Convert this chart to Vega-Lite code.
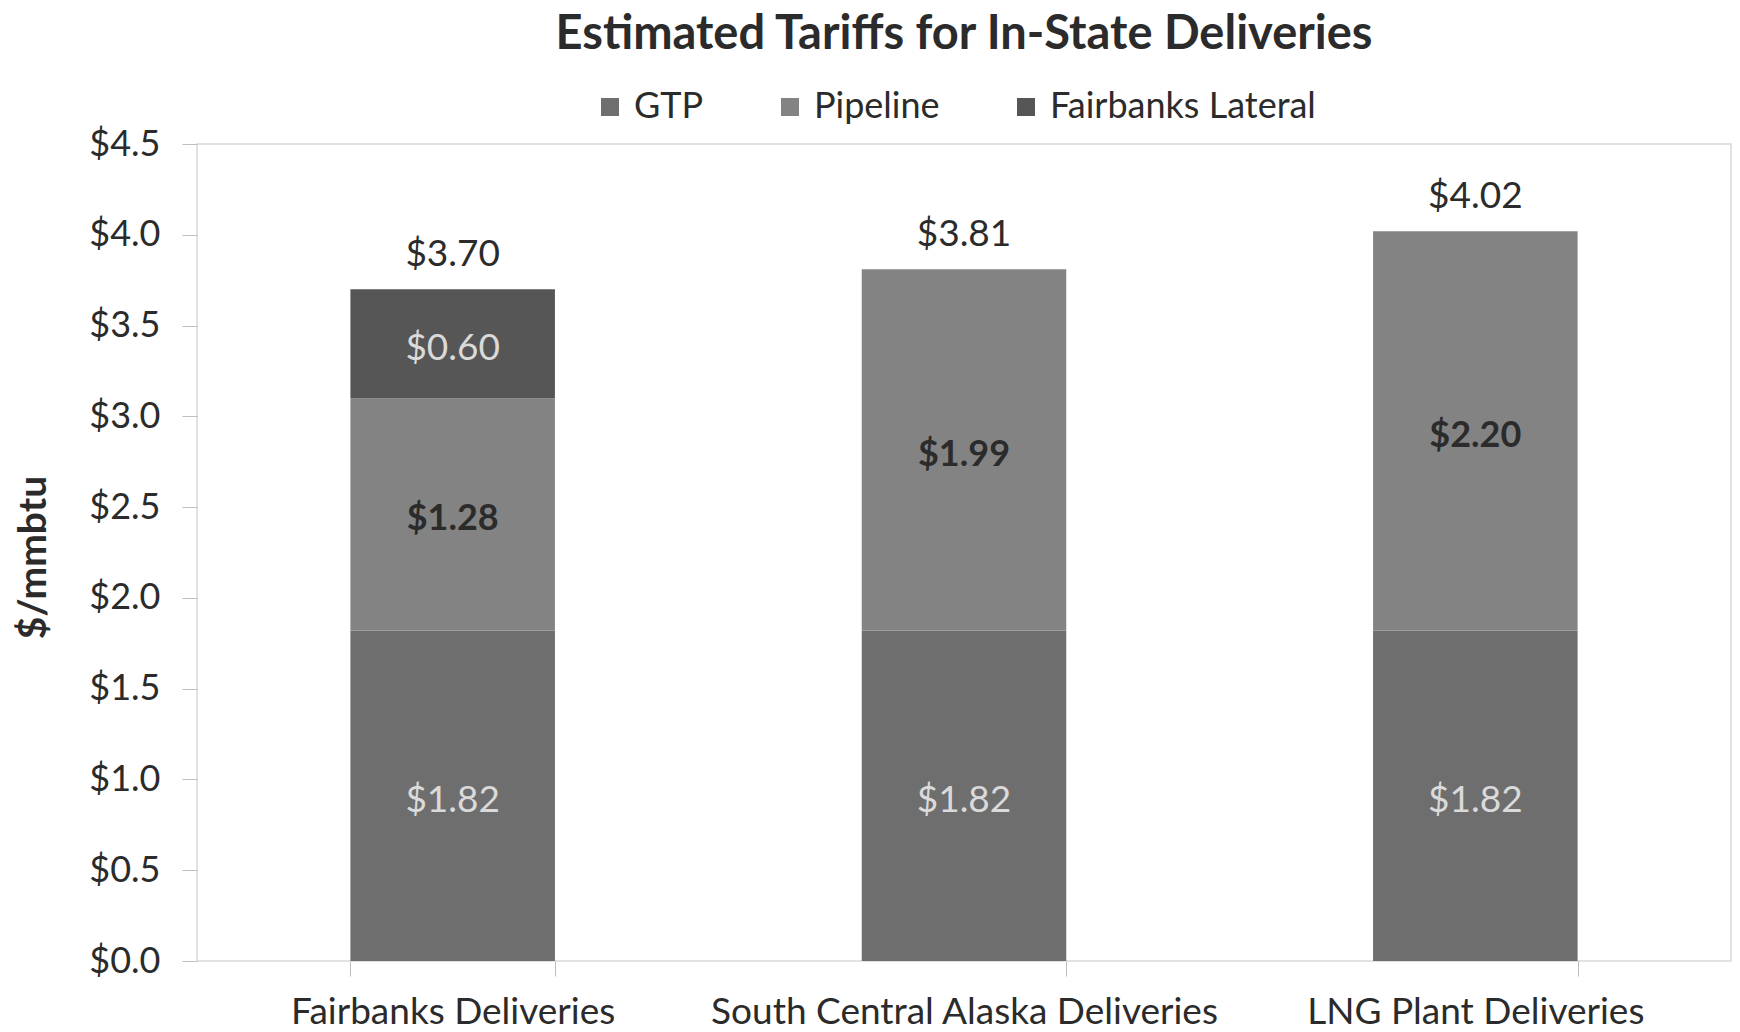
{
  "$schema": "https://vega.github.io/schema/vega-lite/v6.json",
  "autosize": "none",
  "width": 1534,
  "height": 817,
  "padding": {"left": 197, "top": 144, "right": 9, "bottom": 71},
  "background": "white",
  "config": {
    "font": "Lato",
    "view": {"stroke": "#d9d9d9", "strokeWidth": 1.5}
  },
  "title": {
    "text": "Estimated Tariffs for In-State Deliveries",
    "fontSize": 47,
    "fontWeight": "bold",
    "color": "#2b2b2b",
    "anchor": "middle",
    "frame": "group",
    "offset": 30
  },
  "data": {
    "values": [
      {"delivery": "Fairbanks Deliveries", "series": "GTP", "value": 1.82},
      {"delivery": "Fairbanks Deliveries", "series": "Pipeline", "value": 1.28},
      {"delivery": "Fairbanks Deliveries", "series": "Fairbanks Lateral", "value": 0.60},
      {"delivery": "South Central Alaska Deliveries", "series": "GTP", "value": 1.82},
      {"delivery": "South Central Alaska Deliveries", "series": "Pipeline", "value": 1.99},
      {"delivery": "LNG Plant Deliveries", "series": "GTP", "value": 1.82},
      {"delivery": "LNG Plant Deliveries", "series": "Pipeline", "value": 2.20}
    ]
  },
  "transform": [
    {"window": [{"op": "row_number", "as": "idx"}]},
    {"stack": "value", "groupby": ["delivery"], "sort": [{"field": "idx"}], "as": ["v0", "v1"]}
  ],
  "encoding": {
    "x": {
      "field": "delivery",
      "type": "nominal",
      "sort": ["Fairbanks Deliveries", "South Central Alaska Deliveries", "LNG Plant Deliveries"],
      "scale": {"paddingInner": 0.6, "paddingOuter": 0.3},
      "axis": {
        "title": null,
        "labelAngle": 0,
        "labelFontSize": 37,
        "labelColor": "#2b2b2b",
        "labelPadding": 18,
        "labelLimit": 0,
        "domain": false,
        "tickBand": "extent",
        "tickSize": 15,
        "tickColor": "#bfbfbf"
      }
    }
  },
  "layer": [
    {
      "mark": {"type": "bar"},
      "encoding": {
        "y": {
          "field": "v1",
          "type": "quantitative",
          "scale": {"domain": [0, 4.5], "nice": false},
          "axis": {
            "title": "$/mmbtu",
            "titleFontSize": 39,
            "titleFontWeight": "bold",
            "titleColor": "#2b2b2b",
            "titleX": -164,
            "titleY": 413,
            "titleAngle": -90,
            "titleBaseline": "middle",
            "titleAlign": "center",
            "values": [0, 0.5, 1, 1.5, 2, 2.5, 3, 3.5, 4, 4.5],
            "format": "$.1f",
            "labelFontSize": 36,
            "labelColor": "#2b2b2b",
            "labelPadding": 22,
            "domain": false,
            "grid": false,
            "tickSize": 15,
            "tickColor": "#bfbfbf"
          }
        },
        "y2": {"field": "v0"},
        "color": {
          "field": "series",
          "type": "nominal",
          "scale": {
            "domain": ["GTP", "Pipeline", "Fairbanks Lateral"],
            "range": ["#6e6e6e", "#838383", "#565656"]
          },
          "legend": {
            "title": null,
            "orient": "none",
            "direction": "horizontal",
            "legendX": 395,
            "legendY": -55,
            "symbolType": "square",
            "symbolSize": 324,
            "symbolStrokeWidth": 0,
            "labelFontSize": 36,
            "labelColor": "#2b2b2b",
            "labelOffset": 6,
            "labelLimit": 0,
            "columnPadding": 68
          }
        }
      }
    },
    {
      "transform": [
        {"filter": "datum.series === 'Pipeline'"},
        {"fold": ["v0", "v1"], "as": ["edge", "pos"]}
      ],
      "mark": {"type": "text", "fontSize": 36, "fontWeight": "bold", "color": "#2b2b2b", "baseline": "middle", "dy": 5},
      "encoding": {
        "y": {"field": "pos", "aggregate": "mean", "type": "quantitative"},
        "detail": {"field": "series"},
        "text": {"field": "value", "type": "quantitative", "format": "$.2f"}
      }
    },
    {
      "transform": [
        {"filter": "datum.series !== 'Pipeline'"},
        {"fold": ["v0", "v1"], "as": ["edge", "pos"]}
      ],
      "mark": {"type": "text", "fontSize": 37, "color": "#dadada", "baseline": "middle", "dy": 5},
      "encoding": {
        "y": {"field": "pos", "aggregate": "mean", "type": "quantitative"},
        "detail": {"field": "series"},
        "text": {"field": "value", "type": "quantitative", "format": "$.2f"}
      }
    },
    {
      "transform": [{"aggregate": [{"op": "sum", "field": "value", "as": "total"}], "groupby": ["delivery"]}],
      "mark": {"type": "text", "fontSize": 37, "color": "#2b2b2b", "baseline": "middle", "dy": -34},
      "encoding": {
        "y": {"field": "total", "type": "quantitative"},
        "text": {"field": "total", "type": "quantitative", "format": "$.2f"}
      }
    }
  ]
}
